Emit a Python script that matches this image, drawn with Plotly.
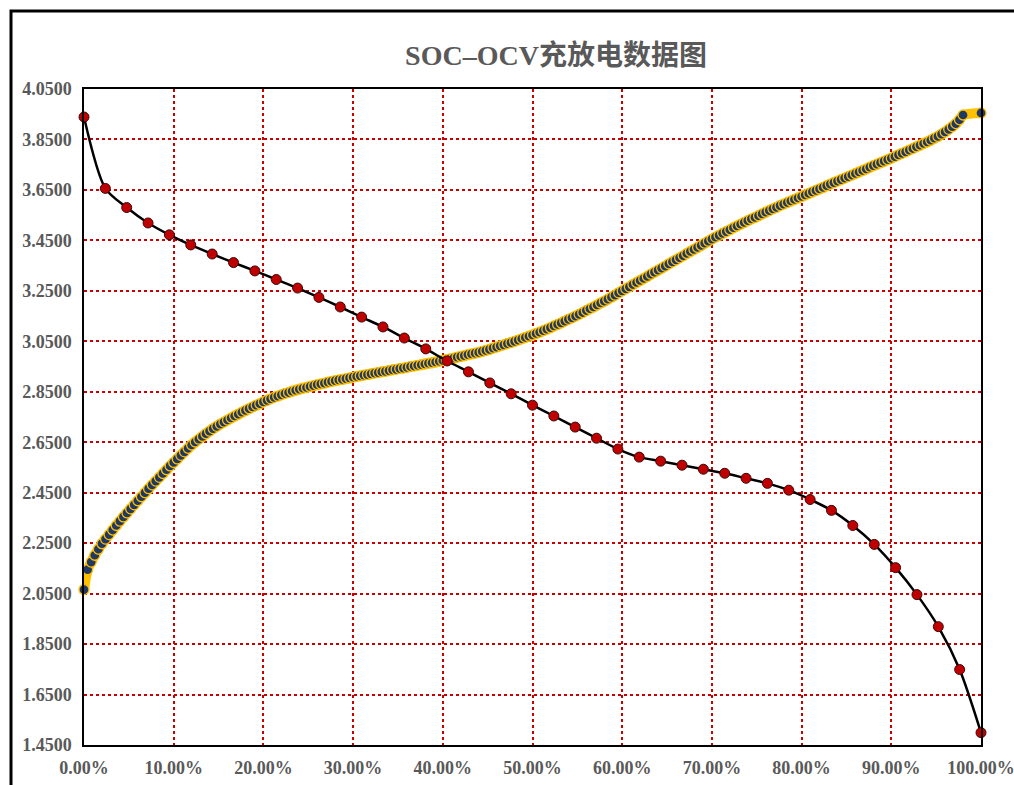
import plotly.graph_objects as go

# ---------------- data ----------------
discharge_soc = [0.00, 2.38, 4.76, 7.14, 9.52, 11.90, 14.29, 16.67, 19.05, 21.43,
                 23.81, 26.19, 28.57, 30.95, 33.33, 35.71, 38.10, 40.48, 42.86, 45.24,
                 47.62, 50.00, 52.38, 54.76, 57.14, 59.52, 61.90, 64.29, 66.67, 69.05,
                 71.43, 73.81, 76.19, 78.57, 80.95, 83.33, 85.71, 88.10, 90.48, 92.86,
                 95.24, 97.62, 100.00]
discharge_ocv = [3.939, 3.656, 3.580, 3.519, 3.472, 3.432, 3.396, 3.362, 3.329, 3.295,
                 3.261, 3.224, 3.186, 3.146, 3.107, 3.063, 3.020, 2.972, 2.929, 2.885,
                 2.842, 2.797, 2.754, 2.710, 2.666, 2.623, 2.591, 2.575, 2.559, 2.543,
                 2.527, 2.507, 2.487, 2.460, 2.423, 2.380, 2.320, 2.245, 2.153, 2.046,
                 1.919, 1.749, 1.499]

charge_soc = [0.0,
              0.4, 0.8, 1.2, 1.6, 2.0, 2.4, 2.8, 3.2, 3.6, 4.0,
              4.4, 4.8, 5.2, 5.6, 6.0, 6.4, 6.8, 7.2, 7.6, 8.0,
              8.4, 8.8, 9.2, 9.6, 10.0, 10.4, 10.8, 11.2, 11.6, 12.0,
              12.4, 12.8, 13.2, 13.6, 14.0, 14.4, 14.8, 15.2, 15.6, 16.0,
              16.4, 16.8, 17.2, 17.6, 18.0, 18.4, 18.8, 19.2, 19.6, 20.0,
              20.4, 20.8, 21.2, 21.6, 22.0, 22.4, 22.8, 23.2, 23.6, 24.0,
              24.4, 24.8, 25.2, 25.6, 26.0, 26.4, 26.8, 27.2, 27.6, 28.0,
              28.4, 28.8, 29.2, 29.6, 30.0, 30.4, 30.8, 31.2, 31.6, 32.0,
              32.4, 32.8, 33.2, 33.6, 34.0, 34.4, 34.8, 35.2, 35.6, 36.0,
              36.4, 36.8, 37.2, 37.6, 38.0, 38.4, 38.8, 39.2, 39.6, 40.0,
              40.4, 40.8, 41.2, 41.6, 42.0, 42.4, 42.8, 43.2, 43.6, 44.0,
              44.4, 44.8, 45.2, 45.6, 46.0, 46.4, 46.8, 47.2, 47.6, 48.0,
              48.4, 48.8, 49.2, 49.6, 50.0, 50.4, 50.8, 51.2, 51.6, 52.0,
              52.4, 52.8, 53.2, 53.6, 54.0, 54.4, 54.8, 55.2, 55.6, 56.0,
              56.4, 56.8, 57.2, 57.6, 58.0, 58.4, 58.8, 59.2, 59.6, 60.0,
              60.4, 60.8, 61.2, 61.6, 62.0, 62.4, 62.8, 63.2, 63.6, 64.0,
              64.4, 64.8, 65.2, 65.6, 66.0, 66.4, 66.8, 67.2, 67.6, 68.0,
              68.4, 68.8, 69.2, 69.6, 70.0, 70.4, 70.8, 71.2, 71.6, 72.0,
              72.4, 72.8, 73.2, 73.6, 74.0, 74.4, 74.8, 75.2, 75.6, 76.0,
              76.4, 76.8, 77.2, 77.6, 78.0, 78.4, 78.8, 79.2, 79.6, 80.0,
              80.4, 80.8, 81.2, 81.6, 82.0, 82.4, 82.8, 83.2, 83.6, 84.0,
              84.4, 84.8, 85.2, 85.6, 86.0, 86.4, 86.8, 87.2, 87.6, 88.0,
              88.4, 88.8, 89.2, 89.6, 90.0, 90.4, 90.8, 91.2, 91.6, 92.0,
              92.4, 92.8, 93.2, 93.6, 94.0, 94.4, 94.8, 95.2, 95.6, 96.0,
              96.4, 96.8, 97.2, 97.6, 98.0,
              100.0]
charge_ocv = [2.066,
              2.145, 2.175, 2.202, 2.226, 2.248, 2.266, 2.284, 2.302, 2.320, 2.337,
              2.354, 2.370, 2.386, 2.402, 2.418, 2.434, 2.450, 2.466, 2.481, 2.496,
              2.511, 2.526, 2.541, 2.556, 2.570, 2.584, 2.598, 2.612, 2.626, 2.639,
              2.651, 2.662, 2.673, 2.684, 2.694, 2.704, 2.713, 2.722, 2.730, 2.738,
              2.746, 2.754, 2.761, 2.769, 2.776, 2.783, 2.790, 2.797, 2.803, 2.810,
              2.816, 2.822, 2.828, 2.833, 2.838, 2.843, 2.847, 2.852, 2.856, 2.860,
              2.864, 2.867, 2.871, 2.874, 2.878, 2.881, 2.884, 2.888, 2.891, 2.894,
              2.897, 2.899, 2.902, 2.905, 2.908, 2.911, 2.913, 2.916, 2.918, 2.921,
              2.924, 2.926, 2.929, 2.931, 2.934, 2.937, 2.939, 2.942, 2.944, 2.947,
              2.950, 2.952, 2.955, 2.957, 2.960, 2.963, 2.965, 2.968, 2.971, 2.974,
              2.977, 2.980, 2.983, 2.987, 2.990, 2.993, 2.997, 3.000, 3.003, 3.006,
              3.010, 3.014, 3.018, 3.023, 3.027, 3.032, 3.036, 3.041, 3.045, 3.050,
              3.055, 3.060, 3.065, 3.070, 3.075, 3.081, 3.086, 3.092, 3.098, 3.104,
              3.111, 3.117, 3.123, 3.130, 3.137, 3.143, 3.150, 3.157, 3.164, 3.172,
              3.179, 3.186, 3.194, 3.202, 3.209, 3.217, 3.225, 3.233, 3.242, 3.250,
              3.258, 3.266, 3.275, 3.283, 3.291, 3.299, 3.307, 3.316, 3.324, 3.332,
              3.340, 3.348, 3.357, 3.365, 3.373, 3.381, 3.389, 3.398, 3.406, 3.414,
              3.422, 3.430, 3.439, 3.447, 3.455, 3.463, 3.470, 3.478, 3.485, 3.492,
              3.500, 3.507, 3.514, 3.521, 3.528, 3.535, 3.541, 3.548, 3.555, 3.562,
              3.568, 3.575, 3.581, 3.588, 3.594, 3.600, 3.606, 3.612, 3.618, 3.624,
              3.630, 3.636, 3.642, 3.648, 3.654, 3.660, 3.667, 3.673, 3.679, 3.685,
              3.691, 3.697, 3.703, 3.709, 3.715, 3.721, 3.727, 3.733, 3.740, 3.746,
              3.752, 3.758, 3.764, 3.770, 3.776, 3.782, 3.789, 3.795, 3.801, 3.808,
              3.814, 3.821, 3.827, 3.834, 3.840, 3.847, 3.855, 3.862, 3.871, 3.880,
              3.890, 3.901, 3.913, 3.928, 3.947,
              3.955]

title_text = "SOC–OCV充放电数据图"

# ---------------- styles ----------------
SERIF = "Liberation Serif, 'Times New Roman', 'Noto Sans CJK SC', serif"
GRAY = "#595959"
GRID_RED = "#C80000"

fig = go.Figure()

fig.add_trace(go.Scatter(
    x=charge_soc, y=charge_ocv, mode="lines+markers",
    line=dict(color="#FFC000", width=10, shape="spline", smoothing=0.6),
    marker=dict(size=10, color="#203864", line=dict(color="#FFC000", width=1.3)),
    cliponaxis=False, showlegend=False, name="充电",
))

fig.add_trace(go.Scatter(
    x=discharge_soc, y=discharge_ocv, mode="lines+markers",
    line=dict(color="#000000", width=2.5, shape="spline", smoothing=0.8),
    marker=dict(size=10, color="#C00000", line=dict(color="#3A0A0A", width=1)),
    cliponaxis=False, showlegend=False, name="放电",
))

tick_font = dict(family=SERIF, size=18, color=GRAY, weight="bold")

fig.update_xaxes(
    range=[0, 100], tick0=0, dtick=10, tickformat=".2f", ticksuffix="%",
    showgrid=True, gridcolor=GRID_RED, gridwidth=2, griddash="dot",
    showline=True, linecolor="black", linewidth=1.5, mirror=True,
    zeroline=False, ticks="", tickfont=tick_font, ticklabelstandoff=6,
    automargin=False, ticklabeloverflow="allow",
)
fig.update_yaxes(
    range=[1.45, 4.05], tick0=1.45, dtick=0.2, tickformat=".4f",
    showgrid=True, gridcolor=GRID_RED, gridwidth=2, griddash="dot",
    showline=True, linecolor="black", linewidth=1.5, mirror=True,
    zeroline=False, ticks="", tickfont=tick_font, ticklabelstandoff=7,
    automargin=False, ticklabeloverflow="allow",
)

fig.update_layout(
    width=1014, height=785,
    margin=dict(l=84, r=33, t=89, b=40),
    paper_bgcolor="white", plot_bgcolor="white",
    title=dict(text=title_text, x=556 / 1014, xanchor="center",
               y=1 - 55 / 785, yanchor="middle", xref="container", yref="container",
               font=dict(family=SERIF, size=28, color=GRAY, weight="bold")),
    shapes=[dict(type="rect", xref="paper", yref="paper",
                 x0=(11 - 84) / 897, x1=(1060 - 84) / 897,
                 y0=(745 - 840) / 656, y1=(745 - 11) / 656,
                 line=dict(color="black", width=3), fillcolor="rgba(0,0,0,0)",
                 layer="above")],
)

fig.write_html("out.html", config={"displayModeBar": False},
               post_script="document.body.style.margin='0';document.body.style.overflow='hidden';")
